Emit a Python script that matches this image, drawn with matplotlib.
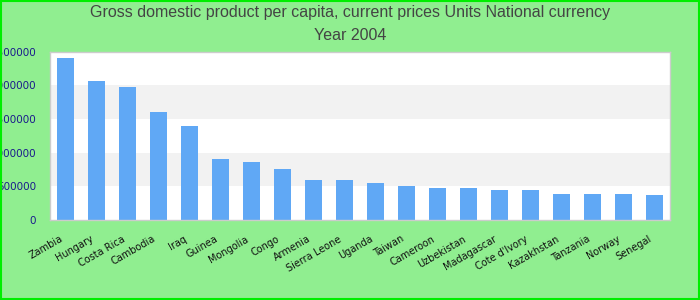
import matplotlib
matplotlib.use("Agg")
import matplotlib.pyplot as plt
import matplotlib.transforms as mtransforms
from matplotlib.patches import Rectangle

countries = ["Zambia", "Hungary", "Costa Rica", "Cambodia", "Iraq", "Guinea", "Mongolia",
             "Congo", "Armenia", "Sierra Leone", "Uganda", "Taiwan", "Cameroon", "Uzbekistan",
             "Madagascar", "Cote d'Ivory", "Kazakhstan", "Tanzania", "Norway", "Senegal"]
values = [2400000, 2070000, 1970000, 1600000, 1390000, 910000, 866000, 760000, 597000, 597000,
          552000, 507000, 478000, 478000, 448000, 448000, 388000, 388000, 388000, 373000]
yticks = [0, 500000, 1000000, 1500000, 2000000, 2500000]
title_line1 = "Gross domestic product per capita, current prices Units National currency"
title_line2 = "Year 2004"

fig = plt.figure(figsize=(7, 3), dpi=100, facecolor="#90EE90")
ax = fig.add_axes([50/700, 80/300, 620/700, 168.3/300])
ax.set_facecolor("white")

for i in range(len(yticks) - 1):
    if i % 2 == 1:
        ax.axhspan(yticks[i], yticks[i+1], color="#f2f2f2", zorder=0, lw=0)

x = list(range(len(countries)))
ax.bar(x, values, width=0.55, color="#60a8f5", zorder=2)
ax.set_xlim(-0.5, len(countries) - 0.5)
ax.set_ylim(0, 2500000)
ax.set_yticks(yticks)
ax.set_yticklabels([str(v) for v in yticks], color="#1a1a8c",
                   family=["DejaVu Sans"], fontsize=7.5)
ax.set_xticks(x)
ax.set_xticklabels(countries, rotation=30, ha="right", rotation_mode="anchor",
                   fontsize=7, family=["DejaVu Sans"], color="#111111")
ax.tick_params(axis="both", length=0)
ax.tick_params(axis="y", pad=10)
ax.tick_params(axis="x", pad=10)
offset = mtransforms.ScaledTranslation(-6/100, 0, fig.dpi_scale_trans)
for lab in ax.get_xticklabels():
    lab.set_transform(lab.get_transform() + offset)
for s in ax.spines.values():
    s.set_color("#cccccc")
    s.set_linewidth(1)

fig.text(0.5, 1 - 12/300, title_line1,
         ha="center", va="center", fontsize=11.5, color="#444444", family=["Liberation Sans"])
fig.text(0.5, 1 - 36/300, title_line2, ha="center", va="center", fontsize=11.5,
         color="#444444", family=["Liberation Sans"])

fig.patches.append(Rectangle((0.001, 0.002), 0.998, 0.996, transform=fig.transFigure,
                             fill=False, edgecolor="#00ee00", lw=1.5))
fig.savefig("out.png", dpi=100, facecolor=fig.get_facecolor())
